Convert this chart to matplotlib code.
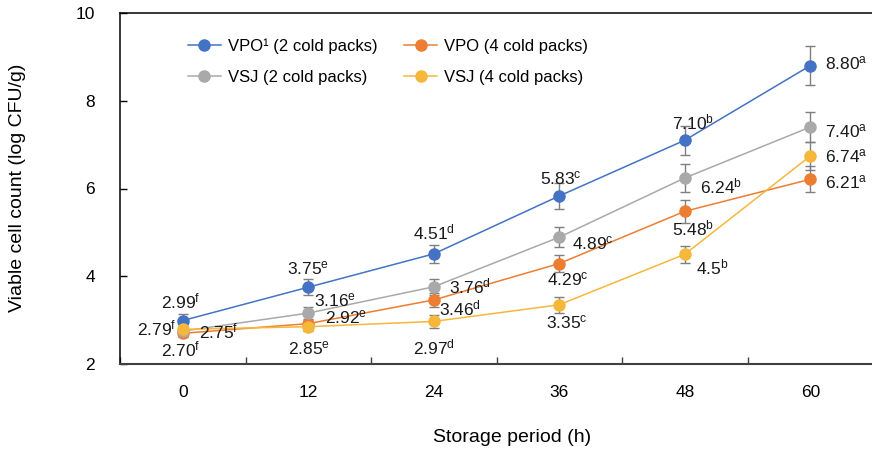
import matplotlib
matplotlib.use("Agg")
import matplotlib.pyplot as plt
from matplotlib.lines import Line2D

plt.rcParams["font.family"] = ["Liberation Sans", "DejaVu Sans"]
plt.rcParams["mathtext.fontset"] = "custom"
plt.rcParams["mathtext.rm"] = "Liberation Sans"
plt.rcParams["mathtext.it"] = "Liberation Sans"

# Storage times (h)
hours = ["0", "12", "24", "36", "48", "60"]

# Mean viable counts (log CFU/g), kept as printed so labels and marks share one value
vpo_2 = ["2.99", "3.75", "4.51", "5.83", "7.10", "8.80"]
vpo_4 = ["2.70", "2.92", "3.46", "4.29", "5.48", "6.21"]
vsj_2 = ["2.75", "3.16", "3.76", "4.89", "6.24", "7.40"]
vsj_4 = ["2.79", "2.85", "2.97", "3.35", "4.5", "6.74"]

# Standard deviations
vpo_2_sd = [0.15, 0.18, 0.20, 0.30, 0.33, 0.44]
vpo_4_sd = [0.08, 0.10, 0.15, 0.20, 0.26, 0.30]
vsj_2_sd = [0.08, 0.15, 0.18, 0.23, 0.31, 0.35]
vsj_4_sd = [0.08, 0.10, 0.15, 0.18, 0.20, 0.32]

# Significance letters
vpo_2_sig = ["f", "e", "d", "c", "b", "a"]
vpo_4_sig = ["f", "e", "d", "c", "b", "a"]
vsj_2_sig = ["f", "e", "d", "c", "b", "a"]
vsj_4_sig = ["f", "e", "d", "c", "b", "a"]

series_names = ["VPO\u00b9 (2 cold packs)", "VPO (4 cold packs)",
                "VSJ (2 cold packs)", "VSJ (4 cold packs)"]
colors = ["#4472C4", "#ED7D31", "#A9A9AB", "#F5B83A"]

# label placement per point: (ha, dx px, dy px)
placements = [
    [("center", -2, 19), ("center", 0, 19), ("center", 0, 21), ("center", 2, 18), ("center", 8, 18), ("left", 15, 2)],
    [("center", -2, -16), ("left", 17, 6), ("left", 5, -9), ("center", 9, -16), ("center", 8, -17), ("left", 15, -3)],
    [("left", 16, 0), ("left", 6, 13), ("left", 15, 0), ("left", 13, -6), ("left", 15, -8), ("left", 15, -4)],
    [("right", -6, 1), ("center", 1, -22), ("center", 0, -26), ("center", 8, -18), ("left", 11, -13), ("left", 15, 0)],
]

fig = plt.figure(figsize=(8.72, 4.51), dpi=100)
ax = fig.add_axes([120 / 872, 1 - 364 / 451, 753 / 872, 351 / 451])

x = list(range(len(hours)))
all_vals = [vpo_2, vpo_4, vsj_2, vsj_4]
all_sd = [vpo_2_sd, vpo_4_sd, vsj_2_sd, vsj_4_sd]
all_sig = [vpo_2_sig, vpo_4_sig, vsj_2_sig, vsj_4_sig]

for vals, sd, sig, col, place in zip(all_vals, all_sd, all_sig, colors, placements):
    y = [float(v) for v in vals]
    ax.errorbar(x, y, yerr=sd, fmt="none", ecolor="#7F7F7F", elinewidth=1.0,
                capsize=3.8, capthick=1.0, zorder=2)
    ax.plot(x, y, color=col, lw=1.1, marker="o", ms=8, mec=col, mfc=col, zorder=3)
    for xi, yi, v, s, (ha, dx, dy) in zip(x, y, vals, sig, place):
        ax.annotate(v + r"$^{\mathrm{" + s + "}}$", (xi, yi), xytext=(dx, dy),
                    textcoords="offset pixels", ha=ha, va="center",
                    fontsize=12.5, color="#1a1a1a", zorder=5)

ax.set_xlim(-0.5, 5.5)
ax.set_ylim(2, 10)
ax.set_yticks([2, 4, 6, 8, 10])
ax.set_xticks([-0.5, 0.5, 1.5, 2.5, 3.5, 4.5])
ax.set_xticklabels([])
ax.set_xticks(x, minor=True)
ax.set_xticklabels(hours, minor=True)
ax.tick_params(axis="x", which="major", direction="in", length=5, width=1, color="#404040")
ax.tick_params(axis="x", which="minor", length=0, pad=15, labelsize=12.5)
ax.tick_params(axis="y", direction="in", length=5, width=1, pad=18, labelsize=12.5)

ax.spines["right"].set_visible(False)
ax.spines["left"].set_linewidth(1.1)
ax.spines["top"].set_linewidth(1.1)
ax.spines["bottom"].set_linewidth(1.5)
ax.spines["bottom"].set_color("#404040")

fig.text(18 / 872, 1 - 188 / 451, "Viable cell count (log CFU/g)", rotation=90,
         ha="center", va="center", fontsize=14)
fig.text(512 / 872, 1 - 437 / 451, "Storage period (h)", ha="center", va="center", fontsize=14)

handles = [Line2D([0], [0], color=c, lw=1.1, marker="o", ms=8) for c in colors]
order = [0, 2, 1, 3]
ax.legend([handles[i] for i in order], [series_names[i] for i in order], ncol=2,
          frameon=False, fontsize=12, loc="upper left", bbox_to_anchor=(0.07, 0.971),
          handlelength=2.0, handletextpad=0.4, columnspacing=1.6, labelspacing=0.95)

fig.savefig("out.png", dpi=100)
